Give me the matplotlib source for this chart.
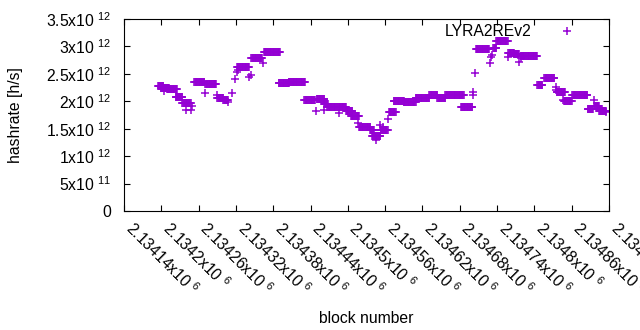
import numpy as np
import matplotlib
matplotlib.use('Agg')
import matplotlib.pyplot as plt
from matplotlib.ticker import FuncFormatter

# runs of consecutive blocks that share one hashrate estimate (block from, block to, h/s)
seg_start = [2134195, 2134200, 2134209, 2134223, 2134234, 2134253, 2134271, 2134290,
             2134300, 2134322, 2134345, 2134365, 2134389, 2134405, 2134430, 2134450,
             2134462, 2134467, 2134497, 2134505, 2134518, 2134536, 2134539, 2134553,
             2134566, 2134574, 2134590, 2134609, 2134631, 2134644, 2134657, 2134682,
             2134706, 2134734, 2134739, 2134758, 2134767, 2134778, 2134805, 2134816,
             2134836, 2134848, 2134861, 2134886, 2134896, 2134904]
seg_end = [2134203, 2134212, 2134225, 2134234, 2134247, 2134269, 2134288, 2134300,
           2134307, 2134341, 2134362, 2134391, 2134405, 2134431, 2134447, 2134462,
           2134468, 2134497, 2134507, 2134518, 2134536, 2134542, 2134552, 2134564,
           2134577, 2134590, 2134609, 2134631, 2134644, 2134657, 2134686, 2134700,
           2134727, 2134739, 2134757, 2134767, 2134775, 2134804, 2134813, 2134832,
           2134849, 2134860, 2134885, 2134894, 2134904, 2134915]
seg_rate = [2.284, 2.242, 2.218, 2.083, 1.963, 2.357, 2.311, 2.060,
            2.020, 2.620, 2.780, 2.893, 2.328, 2.346, 2.018, 2.036,
            1.950, 1.890, 1.817, 1.735, 1.531, 1.480, 1.360, 1.477,
            1.810, 2.010, 1.990, 2.054, 2.115, 2.054, 2.115, 1.900,
            2.947, 2.966, 3.105, 2.886, 2.856, 2.825, 2.297, 2.420,
            2.164, 2.010, 2.110, 1.865, 1.914, 1.826]

# single blocks off the runs
out_block = [2134204, 2134240, 2134247, 2134250, 2134271, 2134289, 2134308, 2134313,
             2134318, 2134321, 2134323, 2134341, 2134344, 2134363, 2134448, 2134462,
             2134486, 2134516, 2134545, 2134552, 2134556, 2134564, 2134701, 2134702,
             2134705, 2134729, 2134731, 2134732, 2134757, 2134775, 2134778, 2134834,
             2134834, 2134846, 2134896, 2134915]
out_rate = [2.187, 1.841, 1.841, 1.914, 2.145, 2.114, 1.987, 2.145,
            2.400, 2.540, 2.570, 2.450, 2.480, 2.700, 1.828, 1.841,
            1.780, 1.600, 1.294, 1.568, 1.537, 1.670, 2.115, 2.170,
            2.510, 2.690, 2.800, 2.840, 2.800, 2.720, 2.780, 2.266,
            2.205, 2.023, 2.023, 1.810]

x_ticks = [2134140 + 60 * i for i in range(14)]
y_ticks = [0, 0.5e12, 1e12, 1.5e12, 2e12, 2.5e12, 3e12, 3.5e12]

PURPLE = '#9400d3'
FS = 11.3


def sci_label(v, pos=None):
    # gnuplot style "mantissa x10 ^exp"
    if v == 0:
        return '0'
    exp = int(np.floor(np.log10(abs(v)) + 1e-9))
    mant = v / 10.0 ** exp
    return '%gx10 $^{%d}$' % (mant, exp)


def main():
    plt.rcParams['font.family'] = ['Liberation Sans', 'DejaVu Sans']
    plt.rcParams['mathtext.default'] = 'regular'
    plt.rcParams['mathtext.fontset'] = 'custom'
    plt.rcParams['mathtext.rm'] = 'Liberation Sans'

    blocks = []
    rates = []
    for s, e, r in zip(seg_start, seg_end, seg_rate):
        for b in range(s, e + 1):
            blocks.append(b)
            rates.append(r * 1e12)
    blocks += out_block
    rates += [r * 1e12 for r in out_rate]

    fig = plt.figure(figsize=(6.4, 3.3), dpi=100)
    ax = fig.add_axes([124 / 640, 119 / 330, 485 / 640, 192 / 330])

    ax.plot(blocks, rates, '+', color=PURPLE, markersize=5.5, markeredgewidth=1.1,
            label='LYRA2REv2')

    ax.set_xlim(x_ticks[0], x_ticks[-1])
    ax.set_ylim(0, 3.5e12)
    ax.set_xticks(x_ticks)
    ax.set_yticks(y_ticks)
    ax.xaxis.set_major_formatter(FuncFormatter(sci_label))
    ax.yaxis.set_major_formatter(FuncFormatter(sci_label))
    ax.tick_params(direction='in', length=4, width=0.8, top=True, right=True,
                   labelsize=FS, colors='black')
    ax.tick_params(axis='x', pad=13.5)
    ax.tick_params(axis='y', pad=9)
    plt.setp(ax.get_xticklabels(), rotation=-45, ha='left', va='baseline',
             rotation_mode='anchor')
    for sp in ax.spines.values():
        sp.set_linewidth(0.8)

    ax.set_xlabel('block number', fontsize=FS)
    ax.xaxis.set_label_coords(0.5, -0.52)
    ax.set_ylabel('hashrate [h/s]', fontsize=FS)
    ax.yaxis.set_label_coords(-0.208, 0.5)

    ax.legend(loc='center right', bbox_to_anchor=(0.945, 0.934), frameon=False,
              markerfirst=False, numpoints=1, handlelength=2.0, handletextpad=1.22,
              borderpad=0, borderaxespad=0, fontsize=FS)

    fig.savefig('out.png', dpi=100)


if __name__ == '__main__':
    main()
